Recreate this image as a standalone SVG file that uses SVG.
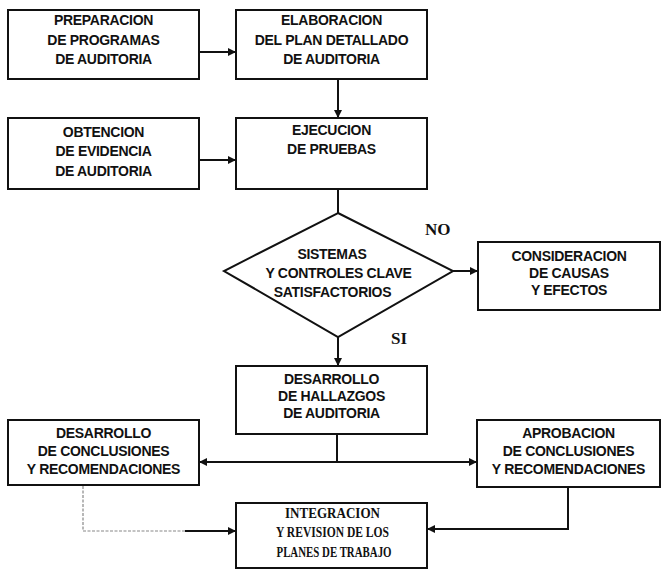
<svg xmlns="http://www.w3.org/2000/svg" width="662" height="570" viewBox="0 0 662 570">
<style>
.box{fill:#fff;stroke:#111;stroke-width:2}
.t{font-family:"Liberation Sans",Arial,sans-serif;font-weight:bold;font-size:14px;letter-spacing:-0.3px;fill:#111;text-anchor:middle}
.s{font-family:"Liberation Serif","Times New Roman",serif;font-weight:bold;font-size:15.5px;fill:#111;text-anchor:middle}
.lbl{font-family:"Liberation Serif","Times New Roman",serif;font-weight:bold;font-size:17px;fill:#111}
.c{fill:none;stroke:#111;stroke-width:2}
.d{fill:none;stroke:#888;stroke-width:1.2;stroke-dasharray:3 1.5}
</style>
<defs>
<marker id="ah" markerUnits="userSpaceOnUse" markerWidth="9" markerHeight="9" refX="8" refY="4.5" orient="auto">
<path d="M0,0.5 L8,4.5 L0,8.5 z" fill="#111"/>
</marker>
</defs>
<rect width="662" height="570" fill="#fff"/>
<g id="connectors">
<path class="c" d="M199,52 L236,52" marker-end="url(#ah)"/>
<path class="c" d="M199,160 L236,160" marker-end="url(#ah)"/>
<path class="c" d="M338,79 L338,118" marker-end="url(#ah)"/>
<path class="c" d="M338,189 L338,213"/>
<path class="c" d="M453,271 L478,271" marker-end="url(#ah)"/>
<path class="c" d="M338,337 L338,366" marker-end="url(#ah)"/>
<path class="c" d="M337,434 L337,462"/>
<path class="c" d="M337,462 L199,462" marker-end="url(#ah)"/>
<path class="c" d="M337,462 L477,462" marker-end="url(#ah)"/>
<path class="d" d="M83,486 L83,531 L190,531"/>
<path class="c" d="M185,531 L236,531" marker-end="url(#ah)" stroke-width="1.5"/>
<path class="c" d="M568,487 L568,529 L427,529" marker-end="url(#ah)"/>
</g>
<g id="preparacion">
<rect class="box" x="8" y="10" width="191" height="69"/>
<text class="t" x="103.5" y="25">PREPARACION</text>
<text class="t" x="103.5" y="44.5">DE PROGRAMAS</text>
<text class="t" x="103.5" y="64">DE AUDITORIA</text>
</g>
<g id="elaboracion">
<rect class="box" x="236" y="10" width="191" height="69"/>
<text class="t" x="331.5" y="25">ELABORACION</text>
<text class="t" x="331.5" y="44.5">DEL PLAN DETALLADO</text>
<text class="t" x="331.5" y="64">DE AUDITORIA</text>
</g>
<g id="obtencion">
<rect class="box" x="8" y="118" width="191" height="71"/>
<text class="t" x="103.5" y="137">OBTENCION</text>
<text class="t" x="103.5" y="156">DE EVIDENCIA</text>
<text class="t" x="103.5" y="176">DE AUDITORIA</text>
</g>
<g id="ejecucion">
<rect class="box" x="236" y="118" width="191" height="71"/>
<text class="t" x="331.5" y="135">EJECUCION</text>
<text class="t" x="331.5" y="154">DE PRUEBAS</text>
</g>
<g id="decision">
<polygon class="box" points="338,213 453,271 338,337 224,271"/>
<text class="t" x="332" y="259" letter-spacing="0.3">SISTEMAS</text>
<text class="t" x="338.5" y="278" letter-spacing="0.6">Y CONTROLES CLAVE</text>
<text class="t" x="332.5" y="297" letter-spacing="0.3">SATISFACTORIOS</text>
</g>
<g id="consideracion">
<rect class="box" x="478" y="242" width="182" height="68"/>
<text class="t" x="569" y="261">CONSIDERACION</text>
<text class="t" x="569" y="278">DE CAUSAS</text>
<text class="t" x="569" y="295">Y EFECTOS</text>
</g>
<g id="hallazgos">
<rect class="box" x="236" y="366" width="191" height="68"/>
<text class="t" x="331.5" y="384">DESARROLLO</text>
<text class="t" x="331.5" y="401">DE HALLAZGOS</text>
<text class="t" x="331.5" y="418">DE AUDITORIA</text>
</g>
<g id="conclusiones">
<rect class="box" x="8" y="420" width="191" height="65"/>
<text class="t" x="103.5" y="438">DESARROLLO</text>
<text class="t" x="103.5" y="456">DE CONCLUSIONES</text>
<text class="t" x="103.5" y="474">Y RECOMENDACIONES</text>
</g>
<g id="aprobacion">
<rect class="box" x="477" y="420" width="183" height="67"/>
<text class="t" x="568.5" y="438">APROBACION</text>
<text class="t" x="568.5" y="456">DE CONCLUSIONES</text>
<text class="t" x="568.5" y="474">Y RECOMENDACIONES</text>
</g>
<g id="integracion">
<rect class="box" x="236" y="503" width="191" height="65"/>
<text class="s" x="332.5" y="518" textLength="95" lengthAdjust="spacingAndGlyphs">INTEGRACION</text>
<text class="s" x="332.5" y="537" textLength="113" lengthAdjust="spacingAndGlyphs">Y REVISION DE LOS</text>
<text class="s" x="334" y="557" textLength="115" lengthAdjust="spacingAndGlyphs">PLANES DE TRABAJO</text>
</g>
<g id="labels">
<text class="lbl" x="425" y="235">NO</text>
<text class="lbl" x="391" y="344">SI</text>
</g>
</svg>
